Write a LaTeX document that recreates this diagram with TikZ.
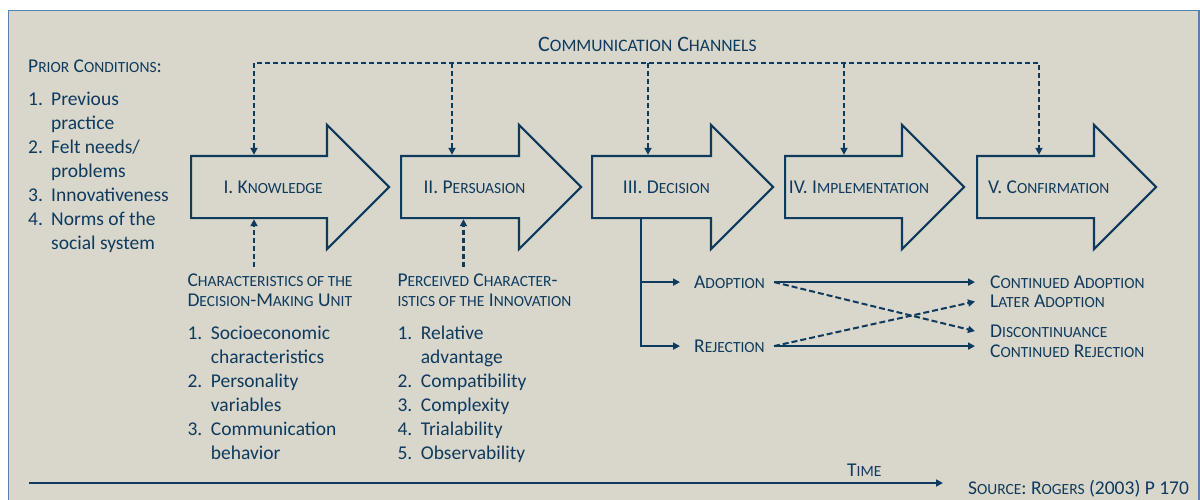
\documentclass[tikz,border=0pt]{standalone}
\usepackage{fontspec}
\setmainfont{Carlito}
\usetikzlibrary{shapes.arrows}
\usetikzlibrary{arrows.meta}

\definecolor{fondo}{RGB}{217,215,203}
\definecolor{navy}{RGB}{14,58,94}
\definecolor{marco}{RGB}{84,130,178}

\newcommand{\sm}[1]{{\fontsize{15.5pt}{18pt}\selectfont #1}}
\newcommand{\smb}[1]{{\fontsize{17.5pt}{20pt}\selectfont #1}}

\begin{document}
\begin{tikzpicture}[x=1pt, y=-1pt,
  stage/.style={draw=navy, line width=2.2pt, fill=fondo, single arrow, single arrow head extend=31pt, single arrow tip angle=90, inner xsep=0pt, inner ysep=30pt, anchor=tail},
  chan/.style={navy, line width=2.4pt, dash pattern=on 5pt off 3pt},
  flow/.style={navy, line width=2pt, -{Triangle[length=7pt,width=7pt]}},
  texto/.style={text=navy, inner sep=0pt, anchor=base west, font=\fontsize{19.5pt}{20pt}\selectfont},
  lista/.style={text=navy, inner sep=0pt, anchor=base west, font=\fontsize{19.5pt}{24pt}\selectfont}]

\useasboundingbox (0,0) rectangle (1200,499);
\draw[marco, line width=1.5pt, fill=fondo] (8.5,10.5) rectangle (1199,530);

% etapas
\node (s1) [stage, minimum height=198pt] at (190,187) {};
\node (s2) [stage, minimum height=180pt] at (400,187) {};
\node (s3) [stage, minimum height=181pt] at (591,187) {};
\node (s4) [stage, minimum height=179pt] at (784,187) {};
\node (s5) [stage, minimum height=179pt] at (976,187) {};

\node (l1) [texto] at (223.3,193.3) {I. K\sm{NOWLEDGE}};
\node (l2) [texto] at (423.3,193.3) {II. P\sm{ERSUASION}};
\node (l3) [texto] at (622.7,193.3) {III. D\sm{ECISION}};
\node (l4) [texto] at (788.7,193.3) {IV. I\sm{MPLEMENTATION}};
\node (l5) [texto] at (988,193.3) {V. C\sm{ONFIRMATION}};

% canales
\node (ch) [texto, font=\fontsize{22pt}{24pt}\selectfont] at (538,51.7) {C\smb{OMMUNICATION} C\smb{HANNELS}};
\coordinate (c1) at (254,63);
\coordinate (c2) at (452,63);
\coordinate (c3) at (648,63);
\coordinate (c4) at (844,63);
\coordinate (c5) at (1039,63);
\draw [chan, {Triangle[length=7pt,width=7pt]}-{Triangle[length=7pt,width=7pt]}] (c1 |- s1.after tail) -- (c1) -- (c5) -- (c5 |- s5.after tail);
\draw [chan, -{Triangle[length=7pt,width=7pt]}] (c2) -- (c2 |- s2.after tail);
\draw [chan, -{Triangle[length=7pt,width=7pt]}] (c3) -- (c3 |- s3.after tail);
\draw [chan, -{Triangle[length=7pt,width=7pt]}] (c4) -- (c4 |- s4.after tail);

% condiciones previas
\node (pc) [texto] at (28,72.7) {P\sm{RIOR} C\sm{ONDITIONS}:};
\node (pcl) [lista] at (28,105) {\begin{tabular}[t]{@{}p{23pt}@{}l@{}}
1. & Previous\\ & practice\\ 2. & Felt needs/\\ & problems\\ 3. & Innovativeness\\ 4. & Norms of the\\ & social system\end{tabular}};

% caracteristicas
\node (dmu) [texto] at (187.3,286.7) {\begin{tabular}[t]{@{}l@{}}C\sm{HARACTERISTICS OF THE}\\ D\sm{ECISION}-M\sm{AKING} U\sm{NIT}\end{tabular}};
\node (dmul) [lista] at (187.3,339) {\begin{tabular}[t]{@{}p{23.4pt}@{}l@{}}
1. & Socioeconomic\\ & characteristics\\ 2. & Personality\\ & variables\\ 3. & Communication\\ & behavior\end{tabular}};
\node (inn) [texto] at (397.3,286.7) {\begin{tabular}[t]{@{}l@{}}P\sm{ERCEIVED} C\sm{HARACTER}-\\ \sm{ISTICS OF THE} I\sm{NNOVATION}\end{tabular}};
\node (innl) [lista] at (397.3,339) {\begin{tabular}[t]{@{}p{23.4pt}@{}l@{}}
1. & Relative\\ & advantage\\ 2. & Compatibility\\ 3. & Complexity\\ 4. & Trialability\\ 5. & Observability\end{tabular}};
\coordinate (b1) at (254,267);
\coordinate (b2) at (463.5,267);
\draw [chan, -{Triangle[length=7pt,width=7pt]}] (b1) -- (b1 |- s1.before tail);
\draw [chan, -{Triangle[length=7pt,width=7pt]}] (b2) -- (b2 |- s2.before tail);

% decision
\node (adopt) [texto] at (694,288.3) {A\sm{DOPTION}};
\node (rej) [texto] at (694,352.3) {R\sm{EJECTION}};
\coordinate (dec) at (641,217);
\draw [flow] (dec) |- ([xshift=-14pt]adopt.west);
\draw [flow] (dec) |- ([xshift=-14pt]rej.west);

\node (cadopt) [texto] at (990,288.3) {C\sm{ONTINUED} A\sm{DOPTION}};
\node (later) [texto] at (990,307.7) {L\sm{ATER} A\sm{DOPTION}};
\node (discont) [texto] at (990,337.3) {D\sm{ISCONTINUANCE}};
\node (crej) [texto] at (990,357.3) {C\sm{ONTINUED} R\sm{EJECTION}};
\draw [flow] ([xshift=9pt]adopt.east) -- ([xshift=-15pt]cadopt.west |- adopt.east);
\draw [flow] ([xshift=9pt]rej.east) -- ([xshift=-15pt]crej.west |- rej.east);
\draw [flow, dash pattern=on 6pt off 3pt] ([xshift=9pt]adopt.east) -- ([xshift=-15pt]discont.west);
\draw [flow, dash pattern=on 6pt off 3pt] ([xshift=9pt]rej.east) -- ([xshift=-15pt]later.west);

% tiempo
\node (time) [texto] at (847,476.7) {T\sm{IME}};
\node (src) [texto] at (968,494) {S\sm{OURCE}: R\sm{OGERS} (2003) P 170};
\coordinate (t0) at (29,483);
\coordinate (t1) at (943,483);
\draw [flow] (t0) -- (t1);
\end{tikzpicture}
\end{document}
